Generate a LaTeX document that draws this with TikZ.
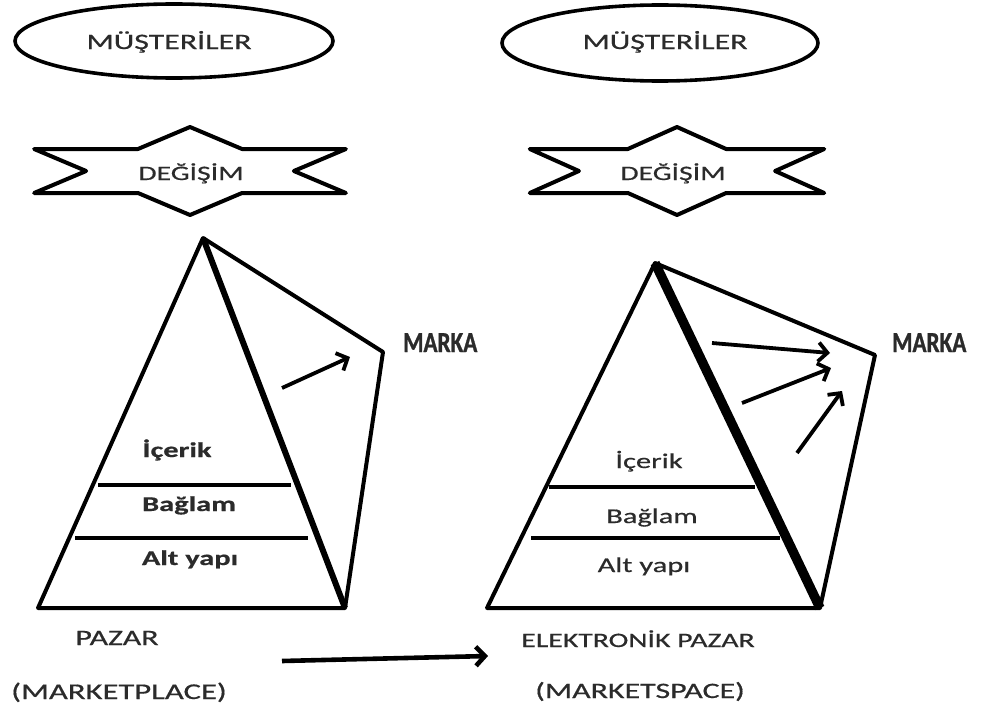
\documentclass[tikz,border=0pt]{standalone}
\usepackage{fontspec}
\setmainfont{Carlito}[FakeStretch=1.45, FakeBold=0.6]
\newfontfamily\brandfont{Carlito}[FakeStretch=0.8, FakeBold=1]
\usetikzlibrary{shapes.geometric,arrows.meta}
\definecolor{ink}{gray}{0.17}
\tikzset{
  outline/.style={line width=4pt, line join=round},
  edgethin/.style={line width=6pt},
  edgethick/.style={line width=9.5pt},
  layerline/.style={line width=4.5pt},
  oval/.style={ellipse, draw, line width=3.6pt, inner sep=0pt},
  txt/.style={anchor=base, inner sep=0pt, text=ink, font=\fontsize{21}{21}\selectfont},
  brand/.style={anchor=base west, inner sep=0pt, text=ink, font=\brandfont\bfseries\fontsize{29}{29}\selectfont},
  push/.style={line width=3.8pt, -{Straight Barb[length=9pt,width=19pt]}},
}
\begin{document}
\begin{tikzpicture}[x=1pt, y=-1pt]
\useasboundingbox (0,0) rectangle (985,709);
\fill[white] (0,0) rectangle (985,709);

% --- customers ---
\node[oval, minimum width=318pt, minimum height=74pt] (custL) at (174,41) {};
\node[txt, font=\fontsize{22}{22}\selectfont] (custLt) at (169,49) {MÜŞTERİLER};
\node[oval, minimum width=316pt, minimum height=76pt] (custR) at (660,43) {};
\node[txt, font=\fontsize{22}{22}\selectfont] (custRt) at (665,49) {MÜŞTERİLER};

% --- exchange stars (stretched hexagrams) ---
\begin{scope}[shift={(190,171)}, x=180pt, y=-44pt]
  \draw[outline] (0,1) -- (0.289,0.5) -- (0.866,0.5) -- (0.577,0) -- (0.866,-0.5)
    -- (0.289,-0.5) -- (0,-1) -- (-0.289,-0.5) -- (-0.866,-0.5) -- (-0.577,0)
    -- (-0.866,0.5) -- (-0.289,0.5) -- cycle;
\end{scope}
\node[txt, font=\fontsize{20.5}{20.5}\selectfont] (exL) at (191,180) {DEĞİŞİM};
\begin{scope}[shift={(677,171)}, x=170pt, y=-44pt]
  \draw[outline] (0,1) -- (0.289,0.5) -- (0.866,0.5) -- (0.577,0) -- (0.866,-0.5)
    -- (0.289,-0.5) -- (0,-1) -- (-0.289,-0.5) -- (-0.866,-0.5) -- (-0.577,0)
    -- (-0.866,0.5) -- (-0.289,0.5) -- cycle;
\end{scope}
\node[txt, font=\fontsize{20.5}{20.5}\selectfont] (exR) at (673,180) {DEĞİŞİM};

% --- marketplace pyramid ---
\coordinate (LA) at (203,238);
\coordinate (LBL) at (38,608);
\coordinate (LBR) at (345,608);
\coordinate (LK) at (383,352);
\draw[outline] (LBL) -- (LA) -- (LBR) -- cycle;
\draw[outline] (LA) -- (LK) -- (LBR);
\draw[edgethin] (LA) -- (LBR);
\coordinate (L1a) at (98,485);  \coordinate (L1b) at (291,485);
\coordinate (L2a) at (75,538);  \coordinate (L2b) at (308,538);
\draw[layerline] (L1a) -- (L1b);
\draw[layerline] (L2a) -- (L2b);
\node[txt, font=\bfseries\fontsize{21}{21}\selectfont] (Lc) at (177,457) {İçerik};
\node[txt, font=\bfseries\fontsize{21}{21}\selectfont] (Lx) at (189,511) {Bağlam};
\node[txt, font=\bfseries\fontsize{21}{21}\selectfont] (Li) at (190,565) {Alt yapı};
\coordinate (Lp1) at (282,388); \coordinate (Lq1) at (350,357);
\draw[push] (Lp1) -- (Lq1);
\node[brand] (brandL) at (403,352) {MARKA};

% --- marketspace pyramid ---
\coordinate (RA) at (655,263);
\coordinate (RBL) at (487,608);
\coordinate (RBR) at (820,608);
\coordinate (RK) at (875,355);
\draw[outline] (RBL) -- (RA) -- (RBR) -- cycle;
\draw[outline] (RA) -- (RK) -- (RBR);
\draw[edgethick] (RA) -- (RBR);
\coordinate (R1a) at (549,487); \coordinate (R1b) at (755,487);
\coordinate (R2a) at (531,538); \coordinate (R2b) at (780,538);
\draw[layerline] (R1a) -- (R1b);
\draw[layerline] (R2a) -- (R2b);
\node[txt] (Rc) at (649,468) {İçerik};
\node[txt] (Rx) at (652,523) {Bağlam};
\node[txt] (Ri) at (644,572) {Alt yapı};
\coordinate (Rp1) at (712,343); \coordinate (Rq1) at (830,353);
\coordinate (Rp2) at (742,403); \coordinate (Rq2) at (831,368);
\coordinate (Rp3) at (797,453); \coordinate (Rq3) at (842,391);
\draw[push] (Rp1) -- (Rq1);
\draw[push] (Rp2) -- (Rq2);
\draw[push] (Rp3) -- (Rq3);
\node[brand] (brandR) at (892,352) {MARKA};

% --- captions ---
\node[txt, font=\fontsize{22}{22}\selectfont] (placeA) at (117,645) {PAZAR};
\node[txt, font=\fontsize{22.5}{22.5}\selectfont] (placeB) at (119,699) {(MARKETPLACE)};
\node[txt, font=\fontsize{20.5}{20.5}\selectfont] (spaceA) at (638,647) {ELEKTRONİK PAZAR};
\node[txt, font=\fontsize{22}{22}\selectfont] (spaceB) at (640,698) {(MARKETSPACE)};
\coordinate (shiftA) at (282,661);
\coordinate (shiftB) at (488,656);
\draw[push, line width=4.6pt] (shiftA) -- (shiftB);
\end{tikzpicture}
\end{document}
